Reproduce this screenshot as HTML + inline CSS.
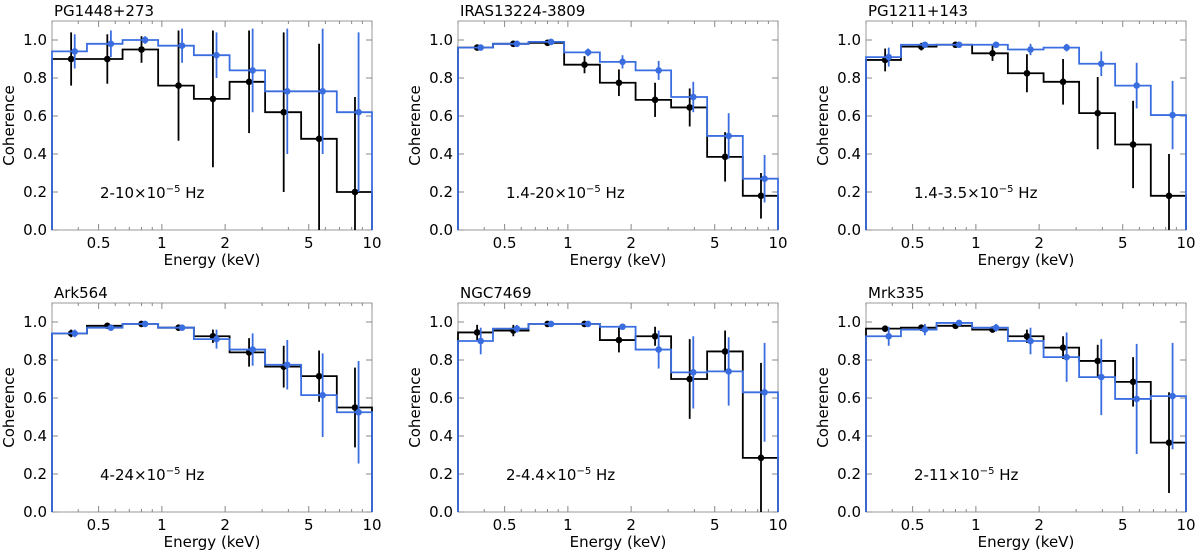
<!DOCTYPE html>
<html><head><meta charset="utf-8"><style>
body{margin:0;background:#fff;}
svg{display:block;font-family:"DejaVu Sans","Liberation Sans",sans-serif;}
</style></head><body>
<svg id="fig" width="1200" height="556" viewBox="0 0 1200 556"></svg>
<script>
const edges=[0.3,0.44,0.65,0.96,1.42,2.1,3.1,4.6,6.8,10];
const centers=[0.37,0.55,0.8,1.2,1.75,2.6,3.8,5.6,8.3];
const xTicks=[0.5,1,2,5,10];
const xTickLabels=["0.5","1","2","5","10"];
const yTicks=[0,0.2,0.4,0.6,0.8,1.0];
const yTickLabels=["0.0","0.2","0.4","0.6","0.8","1.0"];
const titles=["PG1448+273","IRAS13224-3809","PG1211+143","Ark564","NGC7469","Mrk335"];
const freqs=["2-10","1.4-20","1.4-3.5","4-24","2-4.4","2-11"];
const blackVals=[
[0.90,0.90,0.95,0.76,0.69,0.78,0.62,0.48,0.20],
[0.96,0.98,0.985,0.87,0.775,0.685,0.645,0.385,0.18],
[0.895,0.965,0.975,0.93,0.825,0.78,0.615,0.45,0.18],
[0.94,0.98,0.99,0.97,0.925,0.84,0.765,0.715,0.55],
[0.945,0.955,0.99,0.99,0.905,0.925,0.70,0.845,0.285],
[0.965,0.97,0.98,0.96,0.925,0.865,0.795,0.685,0.365]];
const blackErr=[
[0.14,0.13,0.07,0.29,0.36,0.27,0.42,0.50,0.50],
[0.01,0.01,0.01,0.045,0.07,0.09,0.1,0.13,0.12],
[0.06,0.02,0.01,0.04,0.1,0.12,0.19,0.23,0.22],
[0.02,0.01,0.005,0.01,0.035,0.075,0.11,0.135,0.21],
[0.04,0.03,0.005,0.005,0.065,0.05,0.21,0.11,0.5],
[0.01,0.01,0.01,0.01,0.035,0.06,0.085,0.13,0.265]];
const blueVals=[
[0.94,0.98,1.0,0.97,0.92,0.84,0.73,0.73,0.62],
[0.96,0.98,0.99,0.935,0.885,0.84,0.70,0.495,0.27],
[0.91,0.975,0.975,0.975,0.95,0.96,0.875,0.76,0.605],
[0.94,0.97,0.99,0.97,0.91,0.855,0.775,0.615,0.525],
[0.90,0.965,0.99,0.99,0.975,0.855,0.735,0.74,0.63],
[0.925,0.96,0.995,0.97,0.90,0.815,0.71,0.595,0.61]];
const blueErr=[
[0.09,0.07,0.02,0.09,0.12,0.22,0.33,0.33,0.42],
[0.01,0.01,0.01,0.02,0.035,0.05,0.08,0.12,0.125],
[0.05,0.01,0.01,0.01,0.03,0.02,0.065,0.12,0.18],
[0.02,0.01,0.005,0.01,0.05,0.085,0.13,0.22,0.27],
[0.07,0.02,0.005,0.005,0.015,0.1,0.19,0.18,0.26],
[0.05,0.03,0.005,0.02,0.07,0.13,0.2,0.29,0.28]];

const NS="http://www.w3.org/2000/svg";
const fig=document.getElementById('fig');
function mk(tag,attrs,parent){const e=document.createElementNS(NS,tag);for(const k in attrs)e.setAttribute(k,attrs[k]);parent.appendChild(e);return e;}
const lefts=[52,458,866], tops=[21,303], W=320, H=209;
const BLUE="#3a6ee0";
for(let p=0;p<6;p++){
  const L=lefts[p%3], T=tops[Math.floor(p/3)], B=T+H, R=L+W;
  const g=mk('g',{},fig);
  
  
  const x=v=>L+(Math.log10(v)-Math.log10(0.3))/(1-Math.log10(0.3))*W;
  const y=v=>B-v/1.1*H;
  const fr=mk('rect',{x:L,y:T,width:W,height:H,fill:'none',stroke:'#999','stroke-width':1},g);
  
  const minors=[0.3,0.4,0.6,0.7,0.8,0.9,3,4,6,7,8,9];
  minors.forEach(m=>{const xx=x(m);mk('line',{x1:xx,x2:xx,y1:B,y2:B-3,stroke:'#888'},g);mk('line',{x1:xx,x2:xx,y1:T,y2:T+3,stroke:'#888'},g);});
  xTicks.forEach((t,i)=>{const xx=x(t);
    mk('line',{x1:xx,x2:xx,y1:B,y2:B-6,stroke:'#888'},g);mk('line',{x1:xx,x2:xx,y1:T,y2:T+6,stroke:'#888'},g);
    const tx=mk('text',{x:xx,y:B+18,'font-size':15,'text-anchor':'middle',fill:'#000'},g);tx.textContent=xTickLabels[i];
    });
  yTicks.forEach((t,i)=>{const yy=y(t);
    mk('line',{x1:L,x2:L+6,y1:yy,y2:yy,stroke:'#888'},g);mk('line',{x1:R,x2:R-6,y1:yy,y2:yy,stroke:'#888'},g);
    const tx=mk('text',{x:L-5,y:yy+5,'font-size':15,'text-anchor':'end',fill:'#000'},g);tx.textContent=yTickLabels[i];
    });
  const xl=mk('text',{x:L+W/2,y:B+35,'font-size':15,'text-anchor':'middle'},g);xl.textContent='Energy (keV)';
  
  const yl=mk('text',{x:L-38,y:T+H/2,'font-size':15,'text-anchor':'middle',transform:`rotate(-90 ${L-38} ${T+H/2})`},g);yl.textContent='Coherence';
  
  const ti=mk('text',{x:L+2,y:T-5,'font-size':15},g);ti.textContent=titles[p];
  
  const an=mk('text',{x:L+48,y:y(0.2)+6,'font-size':15},g);
  an.innerHTML=freqs[p]+'×10<tspan dy="-6" font-size="10">−5</tspan><tspan dy="6"> Hz</tspan>';
  
  function series(vals,errs,color,off,name){
    let d=`M${x(edges[0])},${B}`;
    vals.forEach((v,i)=>{d+=`L${x(edges[i])},${y(v)}L${x(edges[i+1])},${y(v)}`;});
    d+=`L${x(edges[edges.length-1])},${B}`;
    const st=mk('path',{d:d,fill:'none',stroke:color,'stroke-width':1.8},g);
    
    vals.forEach((v,i)=>{const xx=x(centers[i]*off);
      const lo=Math.max(0,v-errs[i]),hi=Math.min(1.1,v+errs[i]);
      const eb=mk('line',{x1:xx,x2:xx,y1:y(lo),y2:y(hi),stroke:color,'stroke-width':1.8},g);
      
      const c=mk('circle',{cx:xx,cy:y(v),r:3.3,fill:color},g);
      });
  }
  series(blackVals[p],blackErr[p],'#000',1,'black-series');
  series(blueVals[p],blueErr[p],BLUE,1.04,'blue-series');
}
</script>
</body></html>
